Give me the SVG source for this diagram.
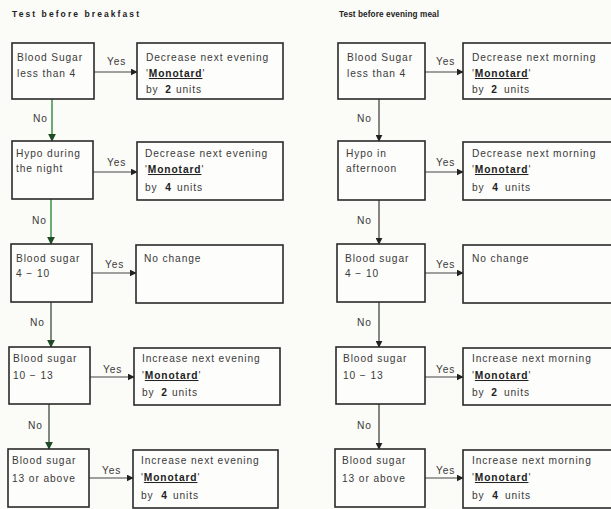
<svg xmlns="http://www.w3.org/2000/svg" width="611" height="509" viewBox="0 0 611 509">
<defs>
<style>
.bg{fill:#fbfbf8}
.box{fill:#fdfdfb;stroke:#2a2a2a;stroke-width:1.6}
.t{font-family:"Liberation Sans",Arial,sans-serif;font-size:10.2px;fill:#3a3a3a;letter-spacing:0.9px}
.b{font-weight:bold;fill:#222}
.u{text-decoration:underline}
.title{font-family:"Liberation Sans",Arial,sans-serif;font-size:8.5px;font-weight:bold;fill:#222}
.title2{font-family:"Liberation Sans",Arial,sans-serif;font-size:8.2px;font-weight:bold;fill:#222;letter-spacing:0.1px}
.yes{stroke:#444;stroke-width:1.1;fill:none}
.gn{stroke:#2f8a3c;stroke-width:1.4;fill:none}
.dk{stroke:#3e4a3e;stroke-width:1.3;fill:none}
.br{stroke:#4a4440;stroke-width:1.3;fill:none}
</style>
<marker id="ah" viewBox="0 0 10 10" refX="9" refY="5" markerWidth="7" markerHeight="7" orient="auto" markerUnits="userSpaceOnUse"><path d="M0,0 L10,5 L0,10 z" fill="#222"/></marker>
<marker id="ahg" viewBox="0 0 10 10" refX="9" refY="5" markerWidth="8" markerHeight="8" orient="auto" markerUnits="userSpaceOnUse"><path d="M0,0 L10,5 L0,10 z" fill="#1f4a26"/></marker>
</defs>
<rect class="bg" x="0" y="0" width="611" height="509"/>

<text class="title" x="12" y="17" textLength="127" lengthAdjust="spacing">Test before breakfast</text>
<text class="title2" x="339" y="17">Test before evening meal</text>

<g id="connectors">
  <!-- left column Yes arrows -->
  <line class="yes" x1="94" y1="72" x2="137" y2="72" marker-end="url(#ah)"/>
  <line class="yes" x1="93" y1="172" x2="137" y2="172" marker-end="url(#ah)"/>
  <line class="yes" x1="92" y1="273" x2="136" y2="273" marker-end="url(#ah)"/>
  <line class="yes" x1="90" y1="377" x2="134" y2="377" marker-end="url(#ah)"/>
  <line class="yes" x1="89" y1="478" x2="133" y2="478" marker-end="url(#ah)"/>
  <text class="t" x="107" y="65">Yes</text>
  <text class="t" x="107" y="166">Yes</text>
  <text class="t" x="105" y="268">Yes</text>
  <text class="t" x="103" y="373">Yes</text>
  <text class="t" x="102" y="474">Yes</text>
  <!-- left column No arrows -->
  <line class="gn" x1="52" y1="99" x2="52" y2="141" marker-end="url(#ahg)"/>
  <line class="gn" x1="51" y1="199" x2="51" y2="244" marker-end="url(#ahg)"/>
  <line class="dk" x1="51" y1="302" x2="51" y2="347" marker-end="url(#ahg)"/>
  <line class="dk" x1="49" y1="404" x2="49" y2="449" marker-end="url(#ahg)"/>
  <text class="t" x="33" y="122">No</text>
  <text class="t" x="32" y="224">No</text>
  <text class="t" x="30" y="326">No</text>
  <text class="t" x="28" y="429">No</text>
  <!-- right column Yes arrows -->
  <line class="yes" x1="425" y1="72" x2="463" y2="72" marker-end="url(#ah)"/>
  <line class="yes" x1="425" y1="172" x2="463" y2="172" marker-end="url(#ah)"/>
  <line class="yes" x1="425" y1="273" x2="463" y2="273" marker-end="url(#ah)"/>
  <line class="yes" x1="425" y1="377" x2="463" y2="377" marker-end="url(#ah)"/>
  <line class="yes" x1="425" y1="478" x2="463" y2="478" marker-end="url(#ah)"/>
  <text class="t" x="436" y="65">Yes</text>
  <text class="t" x="436" y="166">Yes</text>
  <text class="t" x="436" y="268">Yes</text>
  <text class="t" x="436" y="373">Yes</text>
  <text class="t" x="436" y="474">Yes</text>
  <!-- right column No arrows -->
  <line class="br" x1="379" y1="99" x2="379" y2="141" marker-end="url(#ah)"/>
  <line class="br" x1="379" y1="200" x2="379" y2="244" marker-end="url(#ah)"/>
  <line class="dk" x1="379" y1="302" x2="379" y2="347" marker-end="url(#ah)"/>
  <line class="br" x1="379" y1="404" x2="379" y2="449" marker-end="url(#ah)"/>
  <text class="t" x="357" y="122">No</text>
  <text class="t" x="357" y="224">No</text>
  <text class="t" x="357" y="326">No</text>
  <text class="t" x="357" y="429">No</text>
</g>

<!-- Left column -->
<g id="L1">
  <rect class="box" x="12" y="43" width="82" height="56"/>
  <text class="t" x="17" y="61">Blood Sugar</text>
  <text class="t" x="17" y="77">less than 4</text>
</g>
<g id="LA1">
  <rect class="box" x="137" y="43" width="146" height="56"/>
  <text class="t" x="146" y="61">Decrease next evening</text>
  <text class="t" x="146" y="77">'<tspan class="b u">Monotard</tspan>'</text>
  <text class="t" x="146" y="93">by <tspan class="b" dx="3">2</tspan><tspan dx="4">units</tspan></text>
</g>
<g id="L2">
  <rect class="box" x="12" y="141" width="81" height="58"/>
  <text class="t" x="16" y="157">Hypo during</text>
  <text class="t" x="16" y="172">the night</text>
</g>
<g id="LA2">
  <rect class="box" x="137" y="142" width="146" height="58"/>
  <text class="t" x="145" y="157">Decrease next evening</text>
  <text class="t" x="145" y="173">'<tspan class="b u">Monotard</tspan>'</text>
  <text class="t" x="145" y="191">by <tspan class="b" dx="4">4</tspan><tspan dx="5">units</tspan></text>
</g>
<g id="L3">
  <rect class="box" x="11" y="244" width="81" height="58"/>
  <text class="t" x="16" y="262">Blood sugar</text>
  <text class="t" x="16" y="277">4 − 10</text>
</g>
<g id="LA3">
  <rect class="box" x="136" y="245" width="147" height="58"/>
  <text class="t" x="144" y="262">No change</text>
</g>
<g id="L4">
  <rect class="box" x="9" y="347" width="81" height="57"/>
  <text class="t" x="13" y="362">Blood sugar</text>
  <text class="t" x="13" y="379">10 − 13</text>
</g>
<g id="LA4">
  <rect class="box" x="134" y="348" width="146" height="57"/>
  <text class="t" x="142" y="362">Increase next evening</text>
  <text class="t" x="142" y="379">'<tspan class="b u">Monotard</tspan>'</text>
  <text class="t" x="142" y="396">by <tspan class="b" dx="3">2</tspan><tspan dx="4">units</tspan></text>
</g>
<g id="L5">
  <rect class="box" x="8" y="449" width="81" height="58"/>
  <text class="t" x="12" y="464">Blood sugar</text>
  <text class="t" x="12" y="482">13 or above</text>
</g>
<g id="LA5">
  <rect class="box" x="133" y="450" width="145" height="58"/>
  <text class="t" x="141" y="464">Increase next evening</text>
  <text class="t" x="141" y="481">'<tspan class="b u">Monotard</tspan>'</text>
  <text class="t" x="141" y="499">by <tspan class="b" dx="4">4</tspan><tspan dx="5">units</tspan></text>
</g>

<!-- Right column -->
<g id="R1">
  <rect class="box" x="338" y="43" width="87" height="56"/>
  <text class="t" x="347" y="61">Blood Sugar</text>
  <text class="t" x="347" y="77">less than 4</text>
</g>
<g id="RA1">
  <rect class="box" x="463" y="43" width="152" height="56"/>
  <text class="t" x="472" y="61">Decrease next morning</text>
  <text class="t" x="472" y="77">'<tspan class="b u">Monotard</tspan>'</text>
  <text class="t" x="472" y="93">by <tspan class="b" dx="3">2</tspan><tspan dx="6">units</tspan></text>
</g>
<g id="R2">
  <rect class="box" x="338" y="141" width="87" height="59"/>
  <text class="t" x="346" y="157">Hypo in</text>
  <text class="t" x="346" y="172">afternoon</text>
</g>
<g id="RA2">
  <rect class="box" x="463" y="142" width="152" height="58"/>
  <text class="t" x="472" y="157">Decrease next morning</text>
  <text class="t" x="472" y="173">'<tspan class="b u">Monotard</tspan>'</text>
  <text class="t" x="472" y="191">by <tspan class="b" dx="4">4</tspan><tspan dx="6">units</tspan></text>
</g>
<g id="R3">
  <rect class="box" x="337" y="244" width="88" height="58"/>
  <text class="t" x="345" y="262">Blood sugar</text>
  <text class="t" x="345" y="277">4 − 10</text>
</g>
<g id="RA3">
  <rect class="box" x="463" y="245" width="152" height="58"/>
  <text class="t" x="472" y="262">No change</text>
</g>
<g id="R4">
  <rect class="box" x="336" y="347" width="89" height="57"/>
  <text class="t" x="343" y="362">Blood sugar</text>
  <text class="t" x="343" y="379">10 − 13</text>
</g>
<g id="RA4">
  <rect class="box" x="463" y="348" width="152" height="57"/>
  <text class="t" x="472" y="362">Increase next morning</text>
  <text class="t" x="472" y="379">'<tspan class="b u">Monotard</tspan>'</text>
  <text class="t" x="472" y="396">by <tspan class="b" dx="3">2</tspan><tspan dx="6">units</tspan></text>
</g>
<g id="R5">
  <rect class="box" x="335" y="449" width="90" height="58"/>
  <text class="t" x="342" y="464">Blood sugar</text>
  <text class="t" x="342" y="482">13 or above</text>
</g>
<g id="RA5">
  <rect class="box" x="463" y="450" width="152" height="58"/>
  <text class="t" x="472" y="464">Increase next morning</text>
  <text class="t" x="472" y="481">'<tspan class="b u">Monotard</tspan>'</text>
  <text class="t" x="472" y="499">by <tspan class="b" dx="4">4</tspan><tspan dx="6">units</tspan></text>
</g>
</svg>
